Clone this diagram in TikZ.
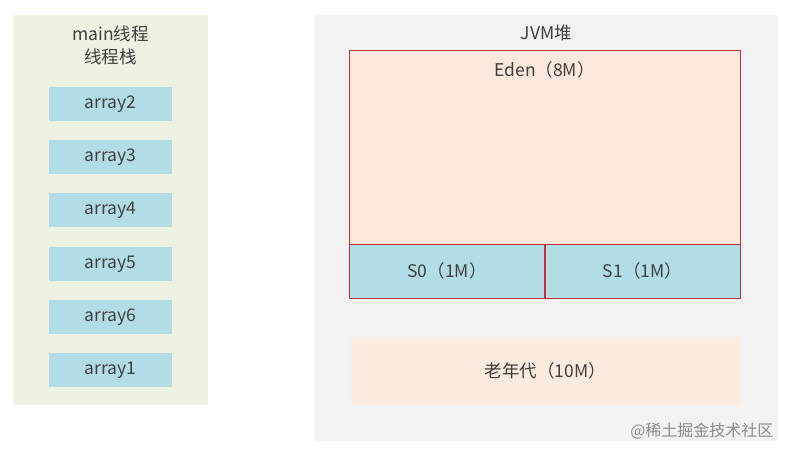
\documentclass[tikz,border=0pt]{standalone}
\usepackage{fontspec}
\setmainfont{Noto Sans CJK SC}
\begin{document}
\begin{tikzpicture}[x=1pt,y=-1pt,
  txt/.style={font=\fontsize{17.5}{23}\selectfont,text=black!75},
  arr/.style={fill=blue0,minimum width=123pt,minimum height=34pt,inner sep=0pt,txt},
  surv/.style={fill=blue0,draw=redline,line width=0.8pt,minimum width=195pt,minimum height=54pt,inner sep=0pt,txt}]
\definecolor{greenbg}{HTML}{EEF2E2}
\definecolor{graybg}{HTML}{F2F2F2}
\definecolor{blue0}{HTML}{B3DDE6}
\definecolor{edenc}{HTML}{FDE8DC}
\definecolor{oldc}{HTML}{FCEBDF}
\definecolor{redline}{HTML}{C0313A}
\useasboundingbox (0,0) rectangle (789,456);
\fill[white] (0,0) rectangle (789,456);
\node[fill=greenbg,minimum width=195pt,minimum height=390pt,inner sep=0pt] (stackbg) at (110.5,210) {};
\node[txt,align=center] (stacktitle) at (110.5,45) {main线程\\线程栈};
\node[arr] (a2) at (110.5,104) {array2};
\node[arr] (a3) at (110.5,157) {array3};
\node[arr] (a4) at (110.5,210) {array4};
\node[arr] (a5) at (110.5,264) {array5};
\node[arr] (a6) at (110.5,317) {array6};
\node[arr] (a1) at (110.5,370) {array1};
\node[fill=graybg,minimum width=463pt,minimum height=426pt,inner sep=0pt] (heapbg) at (546.5,228) {};
\node[txt] (heaptitle) at (546.5,33) {JVM堆};
\node[fill=edenc,draw=redline,line width=0.8pt,minimum width=391pt,minimum height=194pt,inner sep=0pt] (eden) at (544.5,147) {};
\node[txt] (edent) at (544.5,70) {Eden（8M）};
\node[surv] (s0) at (447,271) {S0（1M）};
\node[surv] (s1) at (642.5,271) {S1（1M）};
\node[fill=oldc,minimum width=389pt,minimum height=68pt,inner sep=0pt,txt] (old) at (545.5,371) {老年代（10M）};
\node[font=\fontsize{16}{18}\selectfont,text=black!45,anchor=east] (wm) at (777,431) {@稀土掘金技术社区};
\end{tikzpicture}
\end{document}
